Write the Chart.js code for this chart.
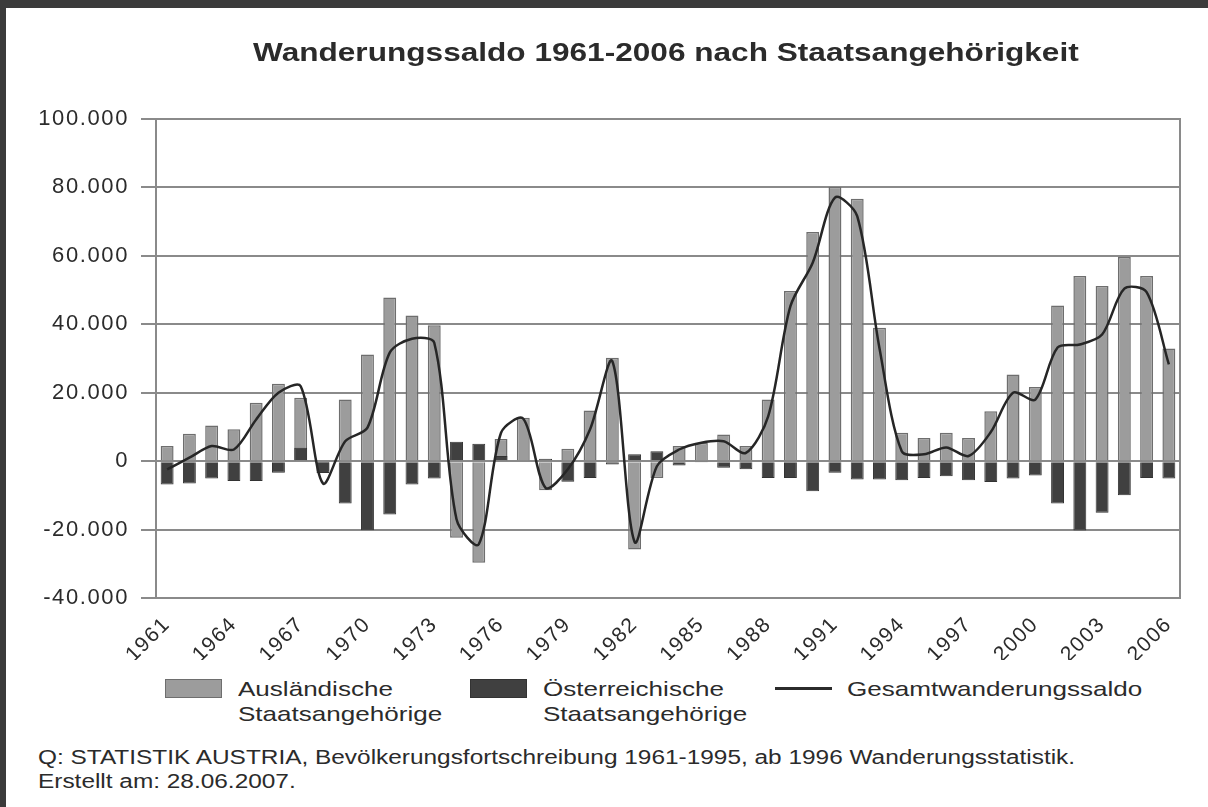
<!DOCTYPE html>
<html>
<head>
<meta charset="utf-8">
<script src="https://cdn.jsdelivr.net/npm/chart.js@4.4.1/dist/chart.umd.min.js"></script>
<style>
  html, body { margin: 0; padding: 0; background: #fff; }
  #page { position: relative; width: 1208px; height: 807px; background: #fff; overflow: hidden;
          font-family: "Liberation Sans", Arial, sans-serif; color: #2b2b2b; }
  .frame { position: absolute; background: #3b3b3b; }
  #c { position: absolute; left: 0; top: 0; }
  .txt { position: absolute; white-space: nowrap; transform-origin: left center; }
  #title { left: 253px; top: 37px; font-size: 26px; font-weight: bold; line-height: 30px; transform: scaleX(1.215); }
  .legtxt { font-size: 21px; line-height: 25px; transform: scaleX(1.24); }
  .box { position: absolute; width: 57px; height: 19px; box-sizing: border-box; }
  .foot { font-size: 20px; line-height: 24px; transform: scaleX(1.22); }
</style>
</head>
<body>
<div id="page">
  <div class="frame" style="left:0;top:0;width:1208px;height:8px"></div>
  <div class="frame" style="left:0;top:0;width:6px;height:807px"></div>
  <canvas id="c" width="1208" height="660"></canvas>
  <div id="title" class="txt">Wanderungssaldo 1961-2006 nach Staatsangehörigkeit</div>

  <div class="box" style="left:165px;top:679px;background:#9c9c9c;border:1.5px solid #6e6e6e"></div>
  <div class="txt legtxt" style="left:238px;top:676px">Ausländische<br>Staatsangehörige</div>
  <div class="box" style="left:470px;top:679px;background:#404040;border:1.5px solid #333"></div>
  <div class="txt legtxt" style="left:543px;top:676px">Österreichische<br>Staatsangehörige</div>
  <div style="position:absolute;left:775px;top:687px;width:57px;height:3px;background:#2b2b2b"></div>
  <div class="txt legtxt" style="left:847px;top:676px">Gesamtwanderungssaldo</div>

  <div class="txt foot" style="left:38px;top:745px">Q: STATISTIK AUSTRIA, Bevölkerungsfortschreibung 1961-1995, ab 1996 Wanderungsstatistik.<br>Erstellt am: 28.06.2007.</div>
</div>
<script>
const years = ['1961','1962','1963','1964','1965','1966','1967','1968','1969','1970',
  '1971','1972','1973','1974','1975','1976','1977','1978','1979','1980',
  '1981','1982','1983','1984','1985','1986','1987','1988','1989','1990',
  '1991','1992','1993','1994','1995','1996','1997','1998','1999','2000',
  '2001','2002','2003','2004','2005','2006'];

const auslaender = [4400, 8000, 10400, 9300, 17100, 22600, 18500, -3000, 18000, 31200,
  47800, 42600, 39700, -22400, -29700, 6500, 12700, -8500, 3600, 14800,
  30200, -25800, -4900, 4400, 5400, 7800, 4400, 18000, 49700, 67000,
  80200, 76700, 39000, 8300, 6800, 8300, 6800, 14600, 25300, 21700,
  45500, 54100, 51200, 59700, 54100, 32900];

const oesterreicher = [-6800, -6500, -5100, -5800, -5800, -3400, 3900, -3500, -12400, -20200,
  -15600, -6800, -5100, 5700, 5100, 1500, -300, 700, -6000, -4900,
  -1000, 2000, 2900, -1300, -200, -1900, -2400, -4900, -4900, -8800,
  -3400, -5400, -5400, -5600, -4900, -4400, -5600, -6100, -5100, -4200,
  -12400, -20300, -15100, -10000, -4900, -5100];

const gesamt = [-2400, 1000, 4400, 3400, 12200, 20000, 21900, -6500, 5800, 9800,
  31700, 35800, 34600, -17000, -24300, 8300, 12400, -7800, -2400, 9300,
  29200, -23600, -1500, 3400, 5400, 5800, 2400, 13100, 45300, 58000,
  77000, 71600, 33000, 2900, 2000, 4000, 1500, 8500, 20000, 18000,
  33200, 34100, 37000, 50400, 49400, 28300];

const xTickLabels = ['1961','1964','1967','1970','1973','1976','1979','1982',
  '1985','1988','1991','1994','1997','2000','2003','2006'];
const yTickLabels = ['-40.000','-20.000','0','20.000','40.000','60.000','80.000','100.000'];

Chart.defaults.font.family = '"Liberation Sans", Arial, sans-serif';
Chart.defaults.color = '#2b2b2b';

// wider text, the scanned original is stretched
const spacing = {
  id: 'spacing',
  beforeLayout(chart) { chart.ctx.letterSpacing = '1.6px'; },
  beforeDraw(chart) { chart.ctx.letterSpacing = '1.6px'; }
};

const frame = {
  id: 'frame',
  beforeDatasetsDraw(chart) {
    const {ctx, chartArea: a} = chart;
    ctx.save();
    ctx.strokeStyle = '#8a8a8a';
    ctx.lineWidth = 2;
    ctx.strokeRect(a.left, a.top, a.right - a.left, a.bottom - a.top);
    ctx.restore();
  }
};

new Chart(document.getElementById('c'), {
  data: {
    labels: years,
    datasets: [
      {
        type: 'line',
        label: 'Gesamtwanderungssaldo',
        data: gesamt,
        borderColor: '#262626',
        borderWidth: 2.5,
        pointRadius: 0,
        tension: 0.3,
        order: 0
      },
      {
        type: 'bar',
        label: 'Österreichische Staatsangehörige',
        data: oesterreicher,
        backgroundColor: '#404040',
        borderColor: '#333333',
        borderWidth: 1,
        grouped: false,
        barPercentage: 0.58,
        categoryPercentage: 1,
        order: 1
      },
      {
        type: 'bar',
        label: 'Ausländische Staatsangehörige',
        data: auslaender,
        backgroundColor: '#9c9c9c',
        borderColor: '#6e6e6e',
        borderWidth: 1.5,
        grouped: false,
        barPercentage: 0.58,
        categoryPercentage: 1,
        order: 2
      }
    ]
  },
  options: {
    responsive: false,
    animation: false,
    layout: { padding: { left: 6, top: 119, right: 28, bottom: 0 } },
    plugins: {
      legend: { display: false },
      tooltip: { enabled: false }
    },
    scales: {
      x: {
        grid: { display: false },
        border: { display: true, color: '#8a8a8a', width: 2 },
        ticks: {
          autoSkip: false,
          maxRotation: 45,
          minRotation: 45,
          padding: 6,
          font: { size: 21 },
          callback: (v, i) => xTickLabels.includes(years[i]) ? years[i] : ''
        },
        afterFit: (s) => { s.height = 62; }
      },
      y: {
        min: -40000,
        max: 100000,
        grid: { color: '#8a8a8a', lineWidth: 2, tickLength: 15 },
        border: { display: true, color: '#8a8a8a', width: 2 },
        ticks: {
          stepSize: 20000,
          padding: 12,
          font: { size: 22 },
          callback: (v, i) => yTickLabels[i]
        },
        afterFit: (s) => { s.width = 150; }
      }
    }
  },
  plugins: [spacing, frame]
});
</script>
</body>
</html>
